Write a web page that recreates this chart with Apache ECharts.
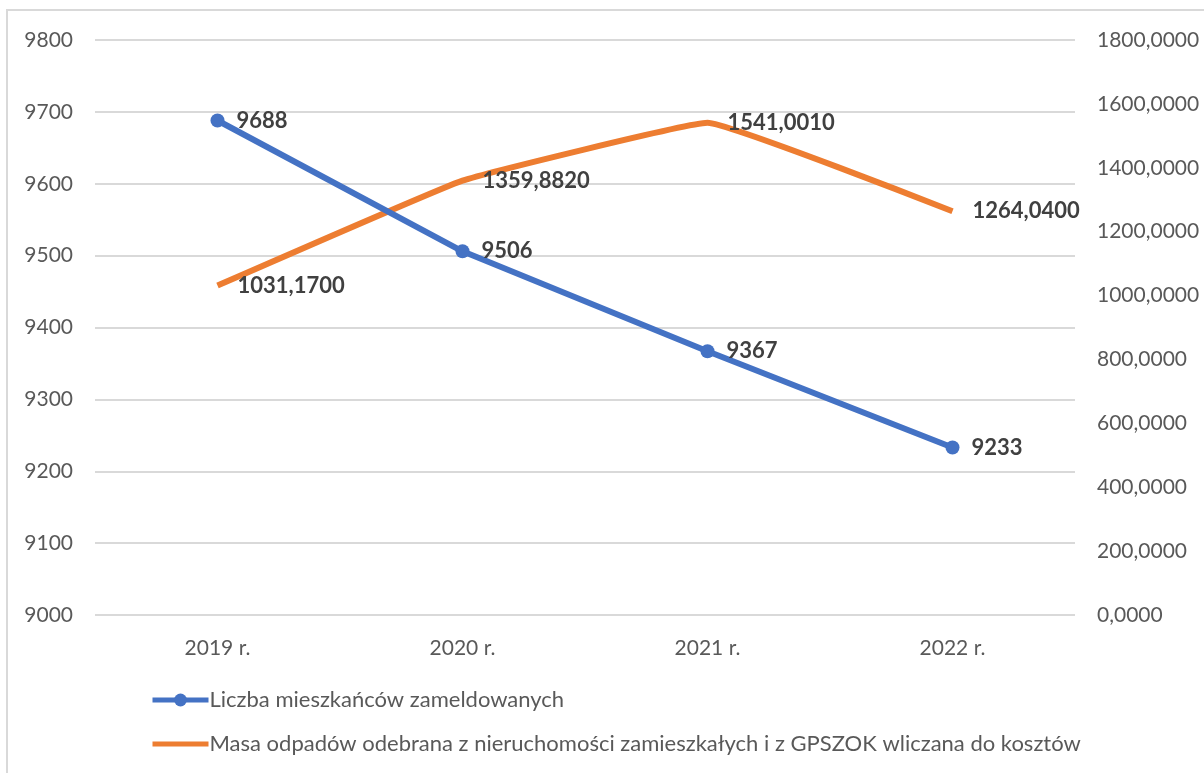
<!DOCTYPE html>
<html>
<head>
<meta charset="utf-8">
<script src="https://cdn.jsdelivr.net/npm/echarts@6/dist/echarts.min.js"></script>
<style>
  html, body { margin: 0; padding: 0; background: #fff; }
  #chart { width: 1204px; height: 773px; }
</style>
</head>
<body>
<div id="chart"></div>
<script>
// dane
var years = ['2019 r.', '2020 r.', '2021 r.', '2022 r.'];
var mieszkancy = [9688, 9506, 9367, 9233];
var masaOdpadow = [1031.17, 1359.882, 1541.001, 1264.04];
var nazwaMieszkancy = 'Liczba mieszkańców zameldowanych';
var nazwaMasa = 'Masa odpadów odebrana z nieruchomości zamieszkałych i z GPSZOK wliczana do kosztów';

function plNum(v) {
  return Number(v).toFixed(4).replace('.', ',');
}

var font = 'Lato, "Liberation Sans", sans-serif';
var myChart = echarts.init(document.getElementById('chart'));

var option = {
  backgroundColor: '#fff',
  animation: false,
  textStyle: { fontFamily: font },
  graphic: [{
    type: 'rect',
    shape: { x: 7, y: 10, width: 1300, height: 900 },
    style: { fill: 'none', stroke: '#d9d9d9', lineWidth: 2 },
    silent: true
  }],
  grid: { left: 95, right: 129, top: 40, bottom: 158 },
  legend: {
    orient: 'vertical',
    left: 150,
    top: 689,
    padding: 0,
    itemWidth: 56,
    itemHeight: 16,
    itemGap: 22,
    lineStyle: { width: 5 },
    textStyle: { fontSize: 22, color: '#595959', fontFamily: font, padding: [0, 0, 0, -4] },
    data: [
      { name: nazwaMieszkancy },
      { name: nazwaMasa, itemStyle: { opacity: 0 } }
    ]
  },
  xAxis: {
    type: 'category',
    data: years,
    axisLine: { show: false },
    axisTick: { show: false },
    axisLabel: { fontSize: 21, color: '#595959', margin: 23 }
  },
  yAxis: [{
    type: 'value',
    min: 9000,
    max: 9800,
    interval: 100,
    axisLabel: { fontSize: 21, color: '#595959', margin: 22, formatter: function (v) { return String(v); } },
    splitLine: { lineStyle: { color: '#d9d9d9', width: 2 } }
  }, {
    type: 'value',
    min: 0,
    max: 1800,
    interval: 200,
    position: 'right',
    axisLabel: { fontSize: 21, color: '#595959', margin: 22, formatter: plNum },
    splitLine: { show: false }
  }],
  series: [{
    name: nazwaMieszkancy,
    type: 'line',
    yAxisIndex: 0,
    data: mieszkancy,
    symbol: 'circle',
    symbolSize: 14,
    color: '#4472C4',
    lineStyle: { width: 6, color: '#4472C4' },
    itemStyle: { color: '#4472C4' },
    label: {
      show: true,
      position: 'right',
      distance: 12,
      fontSize: 22,
      fontWeight: 'bold',
      color: '#404040'
    },
    z: 3
  }, {
    name: nazwaMasa,
    type: 'line',
    yAxisIndex: 1,
    data: masaOdpadow,
    symbol: 'circle',
    symbolSize: 0,
    showSymbol: true,
    smooth: 0.08,
    color: '#ED7D31',
    lineStyle: { width: 6, color: '#ED7D31' },
    itemStyle: { color: '#ED7D31' },
    label: {
      show: true,
      position: 'right',
      distance: 20,
      fontSize: 22,
      fontWeight: 'bold',
      color: '#404040',
      formatter: function (p) { return plNum(p.value); }
    },
    z: 2
  }]
};

myChart.setOption(option);
</script>
</body>
</html>
